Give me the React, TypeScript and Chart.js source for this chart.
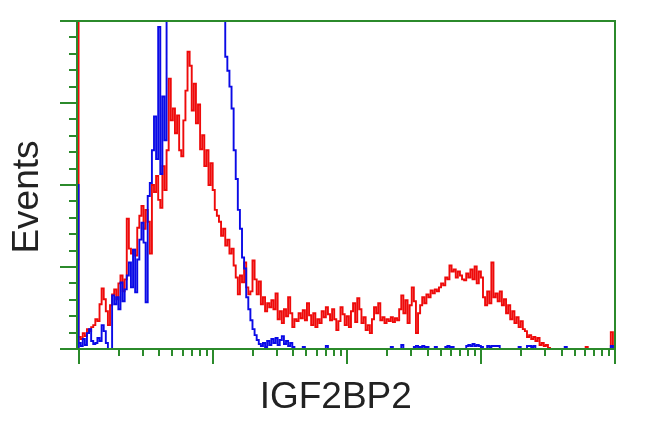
import React, { useEffect, useRef } from "react";
import { Chart, registerables } from "chart.js";

Chart.register(...registerables);

// ---- data -------------------------------------------------------------
const BIN_WIDTH = 4; // channels per histogram bin
const CHANNEL_MAX = 1024; // 4-decade log amplifier, 1024 channels
const DECADES = [1, 10, 100, 1000, 10000];
const MINOR_MULTIPLIERS = [2, 3, 4, 5, 6, 7, 8, 9];
const Y_MAX = 330;
const Y_MINOR_STEP = 16.5;
const Y_MINOR_PER_MAJOR = 5;
const X_TITLE = "IGF2BP2";
const Y_TITLE = "Events";

const RED = [
  400, 12, 10, 16, 13, 20, 18, 22, 24, 30,
  28, 45, 61, 50, 38, 24, 44, 55, 60, 50,
  66, 74, 58, 70, 131, 101, 96, 100, 94, 122,
  134, 144, 121, 140, 128, 96, 165, 158, 174, 150,
  142, 184, 160, 200, 272, 230, 242, 217, 235, 200,
  194, 230, 260, 299, 285, 240, 267, 227, 246, 201,
  215, 184, 200, 165, 187, 160, 140, 134, 128, 114,
  121, 104, 110, 96, 101, 84, 72, 55, 74, 67,
  87, 62, 55, 58, 89, 70, 55, 68, 45, 52,
  38, 46, 42, 49, 40, 56, 30, 38, 26, 40,
  33, 52, 36, 22, 30, 28, 36, 31, 39, 29,
  46, 34, 24, 36, 22, 30, 26, 38, 32, 42,
  35, 29, 40, 30, 19, 28, 42, 35, 24, 33,
  22, 38, 46, 27, 51, 40, 26, 32, 19, 24,
  16, 30, 42, 36, 46, 29, 32, 26, 30, 28,
  32, 27, 31, 29, 40, 54, 36, 49, 26, 44,
  62, 48, 16, 36, 44, 52, 46, 55, 52, 59,
  56, 60, 58, 62, 66, 64, 72, 70, 84, 78,
  80, 72, 78, 74, 70, 69, 76, 72, 80, 70,
  83, 66, 78, 72, 52, 44, 58, 46, 87, 52,
  56, 48, 58, 44, 50, 36, 44, 30, 38, 26,
  32, 22, 28, 20, 18, 12, 14, 10, 12, 8,
  11, 4, 6, 3, 4, 1, 0, 0, 0, 0,
  0, 0, 0, 0, 0, 0, 0, 0, 0, 0,
  0, 0, 0, 2, 0, 0, 0, 0, 0, 0,
  0, 0, 0, 0, 0, 17,
];

const BLUE = [
  166, 6, 3, 10, 4, 16, 20, 8, 5, 6,
  11, 8, 24, 18, 6, 0, 0, 54, 45, 52,
  40, 67, 48, 60, 74, 87, 62, 100, 57, 90,
  110, 127, 107, 47, 154, 167, 200, 234, 191, 324,
  176, 254, 210, 420, 480, 540, 600, 650, 700, 740,
  760, 780, 770, 760, 740, 720, 690, 650, 620, 590,
  560, 520, 490, 460, 430, 410, 390, 370, 355, 340,
  345, 294, 280, 264, 242, 200, 171, 140, 121, 92,
  81, 52, 40, 29, 20, 14, 9, 5, 3, 6,
  2, 8, 4, 10, 6, 11, 4, 9, 13, 5,
  8, 3, 6, 2, 0, 0, 0, 0, 2, 0,
  0, 0, 0, 0, 0, 0, 0, 0, 0, 3,
  0, 0, 0, 0, 0, 0, 0, 0, 0, 0,
  0, 0, 0, 0, 0, 0, 0, 0, 0, 0,
  0, 0, 0, 0, 0, 0, 0, 0, 0, 0,
  2, 0, 0, 0, 0, 4, 0, 0, 0, 0,
  0, 2, 3, 2, 2, 3, 2, 2, 0, 0,
  0, 2, 0, 0, 0, 0, 2, 3, 2, 2,
  0, 0, 0, 0, 0, 0, 3, 4, 3, 5,
  3, 4, 3, 2, 0, 0, 3, 2, 3, 3,
  3, 3, 0, 0, 0, 0, 0, 0, 0, 0,
  0, 2, 0, 0, 0, 3, 3, 2, 3, 0,
  0, 0, 0, 0, 0, 0, 0, 0, 0, 0,
  0, 0, 0, 2, 0, 0, 0, 0, 0, 0,
  0, 0, 0, 0, 0, 0, 0, 0, 0, 0,
  0, 0, 0, 0, 0, 3,
];

// ---- styles -----------------------------------------------------------
const GREEN = "#2b8a2b";
const RED_COLOR = "#ee0a0a";
const BLUE_COLOR = "#0a0ae6";
const TEXT_COLOR = "#222222";
const FONT = '37px "Liberation Sans", Arial, sans-serif';

const CHANNELS_PER_DECADE = CHANNEL_MAX / (DECADES.length - 1);

function toPoints(values: number[]) {
  return [
    { x: 0, y: 0 },
    ...values.map((v, i) => ({ x: i * BIN_WIDTH, y: v })),
    { x: CHANNEL_MAX, y: 0 },
  ];
}

const facsAxes = {
  id: "facsAxes",
  afterDatasetsDraw(chart: any) {
    const { ctx, chartArea: a, scales } = chart;
    const xs = scales.x;
    const ys = scales.y;
    ctx.save();
    ctx.strokeStyle = GREEN;
    ctx.lineWidth = 2;
    ctx.lineCap = "butt";

    const seg = (x1: number, y1: number, x2: number, y2: number) => {
      ctx.beginPath();
      ctx.moveTo(x1, y1);
      ctx.lineTo(x2, y2);
      ctx.stroke();
    };

    // y ticks (left, outward)
    const nY = Math.round(Y_MAX / Y_MINOR_STEP);
    for (let k = 0; k <= nY; k++) {
      const py = Math.round(ys.getPixelForValue(k * Y_MINOR_STEP));
      const len = k % Y_MINOR_PER_MAJOR === 0 ? 17 : 8;
      seg(a.left - len, py, a.left, py);
    }

    // x ticks (bottom, outward), log decades
    DECADES.forEach((d, di) => {
      const px = Math.round(xs.getPixelForValue(CHANNELS_PER_DECADE * Math.log10(d)));
      seg(px, a.bottom, px, a.bottom + 15);
      if (di < DECADES.length - 1) {
        MINOR_MULTIPLIERS.forEach((m) => {
          const mx = Math.round(xs.getPixelForValue(CHANNELS_PER_DECADE * Math.log10(d * m)));
          seg(mx, a.bottom, mx, a.bottom + 7);
        });
      }
    });

    // frame
    ctx.strokeRect(a.left, a.top, a.right - a.left, a.bottom - a.top);

    // titles
    ctx.fillStyle = TEXT_COLOR;
    ctx.font = FONT;
    ctx.textAlign = "center";
    ctx.textBaseline = "alphabetic";
    ctx.fillText(X_TITLE, a.left + (a.right - a.left) * 0.481, a.bottom + 59);
    ctx.translate(a.left - 39, (a.top + a.bottom) / 2 + 12);
    ctx.rotate(-Math.PI / 2);
    ctx.fillText(Y_TITLE, 0, 0);
    ctx.restore();
  },
};

export default function App() {
  const ref = useRef<HTMLCanvasElement | null>(null);

  useEffect(() => {
    if (!ref.current) return;
    const chart = new Chart(ref.current, {
      type: "line",
      data: {
        datasets: [
          {
            label: "IGF2BP2",
            data: toPoints(BLUE),
            borderColor: BLUE_COLOR,
            borderWidth: 1.9,
            stepped: "after",
            pointRadius: 0,
            fill: false,
          },
          {
            label: "Control",
            data: toPoints(RED),
            borderColor: RED_COLOR,
            borderWidth: 1.9,
            stepped: "after",
            pointRadius: 0,
            fill: false,
          },
        ],
      },
      options: {
        animation: false,
        responsive: false,
        maintainAspectRatio: false,
        layout: { padding: { left: 77, top: 21, right: 35, bottom: 82 } },
        scales: {
          x: { type: "linear", min: -3, max: CHANNEL_MAX, display: false },
          y: { type: "linear", min: 0, max: Y_MAX, display: false },
        },
        plugins: {
          legend: { display: false },
          tooltip: { enabled: false },
        },
      },
      plugins: [facsAxes],
    });
    return () => chart.destroy();
  }, []);

  return (
    <div style={{ position: "fixed", left: 0, top: 0, width: 650, height: 431, background: "#fff" }}>
      <canvas ref={ref} width={650} height={431} style={{ width: 650, height: 431 }} />
    </div>
  );
}
